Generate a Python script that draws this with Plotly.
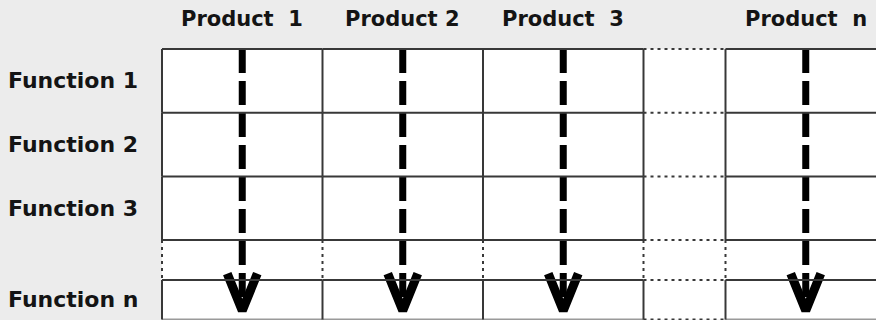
import plotly.graph_objects as go

# ---- data (labels of the diagram) ----
products = ["Product 1", "Product 2", "Product 3", "Product n"]
functions = ["Function 1", "Function 2", "Function 3", "Function n"]
product_wide_gap = [True, False, True, True]   # wider spacing before the number

# ---- geometry / style (pixel units of the axes) ----
W, H = 876, 320
LEFT, COL_W, GAP_COL_W = 162, 160.5, 82
TOP, ROW_H, GAP_ROW_H, LAST_ROW_H = 49, 63.7, 40, 39.5
LINE_C, LINE_W = "#383838", 2
DOT = "3px,4px"
BG = "#ececec"
TXT = "#141414"
FONT = "DejaVu Sans"
FS_P = 21
FS_F = 22

# column extents (gap column inserted before the last product)
cols = []
x = LEFT
gap_col = None
for i, p in enumerate(products):
    if i == len(products) - 1:
        gap_col = (x, x + GAP_COL_W)
        x += GAP_COL_W
    cols.append((x, x + COL_W))
    x += COL_W

# row extents (gap row inserted before the last function)
rows = []
y = TOP
gap_row = None
for i, f in enumerate(functions):
    if i == len(functions) - 1:
        gap_row = (y, y + GAP_ROW_H)
        y += GAP_ROW_H
        h = LAST_ROW_H
    else:
        h = ROW_H
    rows.append((y, y + h))
    y += h
BOTTOM = y

shapes = []


def seg(x0, y0, x1, y1, dash="solid", color=LINE_C, width=LINE_W):
    shapes.append(dict(type="line", xref="x", yref="y", x0=x0, y0=y0, x1=x1, y1=y1,
                       line=dict(color=color, width=width, dash=dash), layer="above"))


# white table area
shapes.append(dict(type="rect", xref="x", yref="y", x0=LEFT, x1=cols[-1][1], y0=TOP, y1=BOTTOM,
                   fillcolor="white", line=dict(width=0), layer="below"))

# horizontal boundaries
hy = sorted(set([r[0] for r in rows] + [r[1] for r in rows] + list(gap_row)))
for yy in hy:
    for (c0, c1) in cols:
        seg(c0, yy, c1, yy, color=("#9a9a9a" if yy == BOTTOM else LINE_C))
    seg(gap_col[0], yy, gap_col[1], yy, dash=DOT)

# vertical boundaries
vx = sorted(set([c[0] for c in cols] + [c[1] for c in cols]))
for xx in vx:
    for (r0, r1) in rows:
        seg(xx, r0, xx, r1)
    seg(xx, gap_row[0], xx, gap_row[1], dash=DOT)

fig = go.Figure()

# arrows down each product column
TIP = BOTTOM - 9
HEAD_TOP = BOTTOM - 46
HEAD_HALF = 15
for (c0, c1) in cols:
    cx = (c0 + c1) / 2
    fig.add_trace(go.Scatter(x=[cx, cx], y=[TOP, TIP], mode="lines",
                             line=dict(color="black", width=7, dash="24px,8px"),
                             hoverinfo="skip", showlegend=False))
    fig.add_trace(go.Scatter(x=[cx - HEAD_HALF, cx, cx + HEAD_HALF], y=[HEAD_TOP, TIP, HEAD_TOP],
                             mode="lines", line=dict(color="black", width=9),
                             hoverinfo="skip", showlegend=False))

annotations = []
for p, (c0, c1), wide in zip(products, cols, product_wide_gap):
    txt = p.replace(" ", "\u00a0 ") if wide else p
    annotations.append(dict(x=(c0 + c1) / 2, y=TOP / 2 - 6, xref="x", yref="y", text="<b>%s</b>" % txt,
                            showarrow=False, xanchor="center", yanchor="middle",
                            font=dict(family=FONT, size=FS_P, color=TXT)))
for f, (r0, r1) in zip(functions, rows):
    annotations.append(dict(x=6, y=(r0 + r1) / 2, xref="x", yref="y", text="<b>%s</b>" % f,
                            showarrow=False, xanchor="left", yanchor="middle",
                            font=dict(family=FONT, size=FS_F, color=TXT)))

fig.update_layout(
    width=W, height=H, margin=dict(l=0, r=0, t=0, b=0),
    paper_bgcolor=BG, plot_bgcolor=BG,
    xaxis=dict(range=[0, W], visible=False, fixedrange=True),
    yaxis=dict(range=[H, 0], visible=False, fixedrange=True),
    shapes=shapes, annotations=annotations, showlegend=False,
)

fig.write_html("out.html", config={"displayModeBar": False},
               post_script="document.body.style.margin='0';document.body.style.overflow='hidden';")
